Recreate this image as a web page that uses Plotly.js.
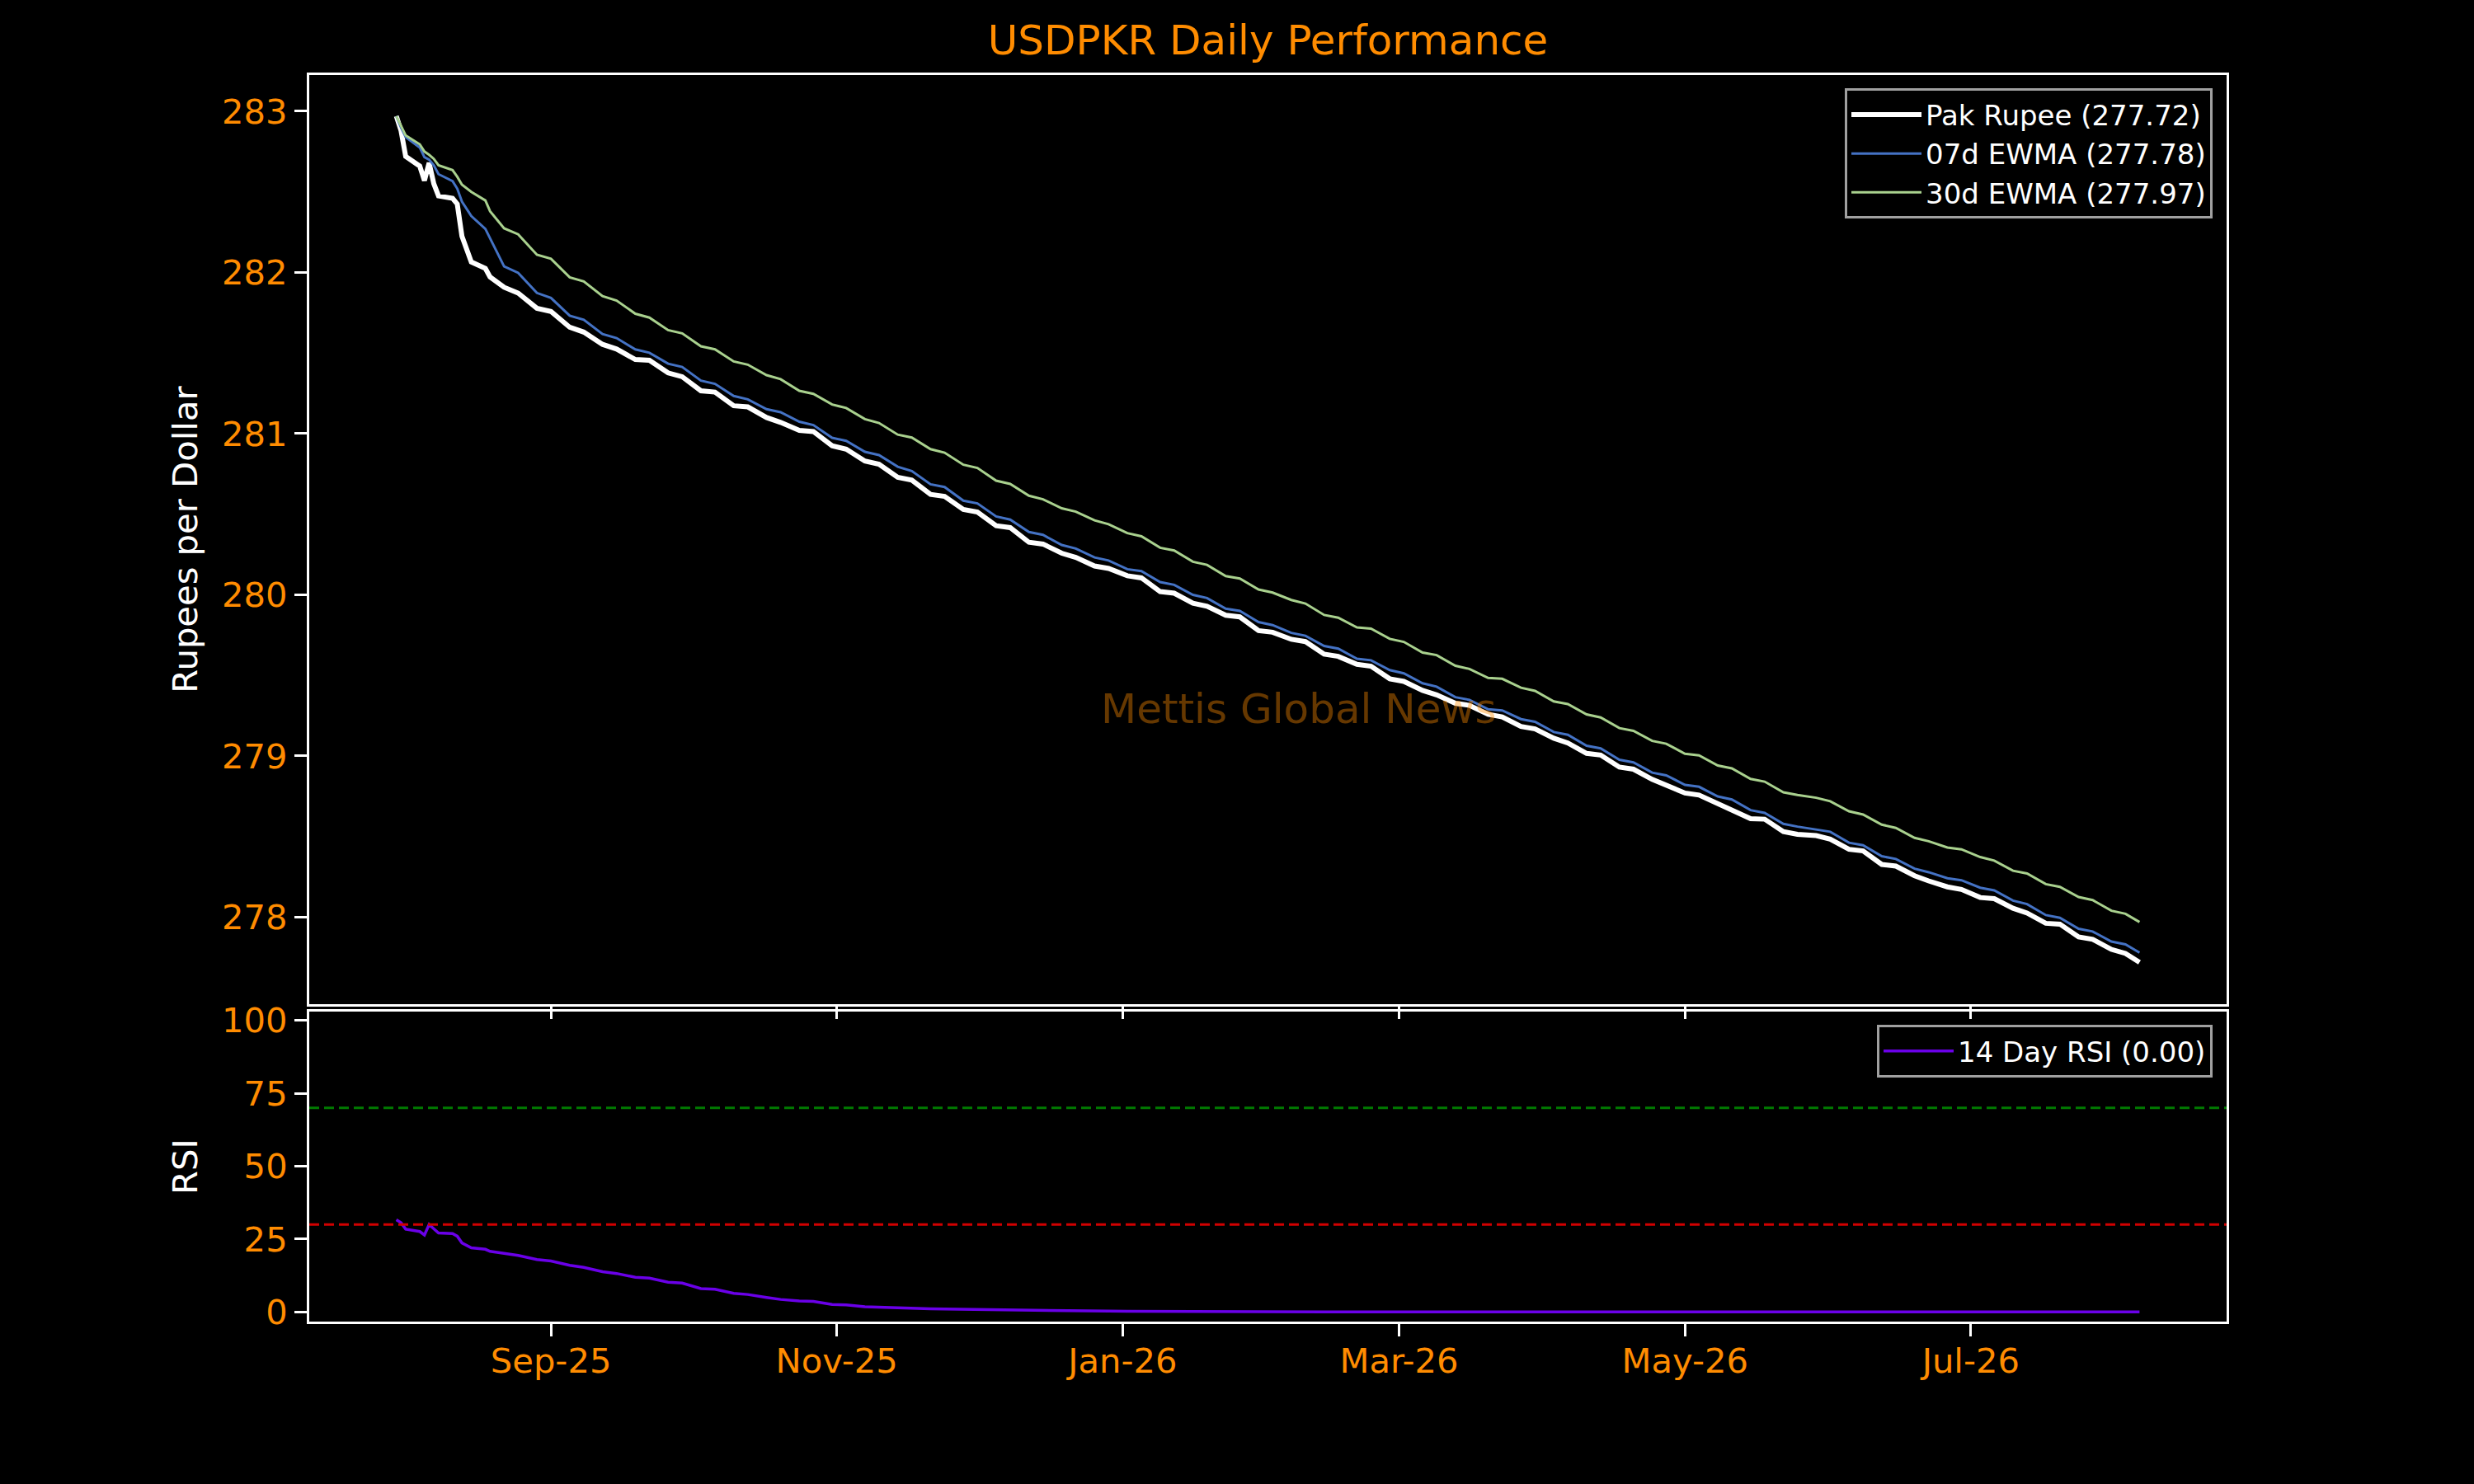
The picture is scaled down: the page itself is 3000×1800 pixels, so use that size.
<!DOCTYPE html>
<html>
<head>
<meta charset="utf-8">
<script src="https://cdn.plot.ly/plotly-3.0.1.min.js"></script>
<style>
  body { margin: 0; background: #000; }
  #chart { width: 3000px; height: 1800px; }
</style>
</head>
<body>
<div id="chart"></div>
<script>
// trading days (daily at the start, then Fri/Mon)
let dates = [
  '2025-07-30','2025-07-31','2025-08-01','2025-08-04','2025-08-05','2025-08-06','2025-08-07','2025-08-08',
  '2025-08-11','2025-08-12','2025-08-13','2025-08-15','2025-08-18','2025-08-19','2025-08-22','2025-08-25','2025-08-29','2025-09-01',
  '2025-09-05','2025-09-08','2025-09-12','2025-09-15','2025-09-19','2025-09-22','2025-09-26','2025-09-29',
  '2025-10-03','2025-10-06','2025-10-10','2025-10-13','2025-10-17','2025-10-20','2025-10-24','2025-10-27','2025-10-31',
  '2025-11-03','2025-11-07','2025-11-10','2025-11-14','2025-11-17','2025-11-21','2025-11-24','2025-11-28',
  '2025-12-01','2025-12-05','2025-12-08','2025-12-12','2025-12-15','2025-12-19','2025-12-22','2025-12-26','2025-12-29',
  '2026-01-02','2026-01-05','2026-01-09','2026-01-12','2026-01-16','2026-01-19','2026-01-23','2026-01-26','2026-01-30',
  '2026-02-02','2026-02-06','2026-02-09','2026-02-13','2026-02-16','2026-02-20','2026-02-23','2026-02-27',
  '2026-03-02','2026-03-06','2026-03-09','2026-03-13','2026-03-16','2026-03-20','2026-03-23','2026-03-27','2026-03-30',
  '2026-04-03','2026-04-06','2026-04-10','2026-04-13','2026-04-17','2026-04-20','2026-04-24','2026-04-27',
  '2026-05-01','2026-05-04','2026-05-08','2026-05-11','2026-05-15','2026-05-18','2026-05-22','2026-05-25','2026-05-29',
  '2026-06-01','2026-06-05','2026-06-08','2026-06-12','2026-06-15','2026-06-19','2026-06-22','2026-06-26','2026-06-29',
  '2026-07-03','2026-07-06','2026-07-10','2026-07-13','2026-07-17','2026-07-20','2026-07-24','2026-07-27','2026-07-31',
  '2026-08-03','2026-08-06'
];

let rupee = [
  282.97, 282.88, 282.72, 282.66, 282.57, 282.68, 282.55, 282.475,
  282.46, 282.425, 282.225, 282.065, 282.025, 281.972, 281.908, 281.872, 281.778, 281.758,
  281.66, 281.63, 281.554, 281.525, 281.46, 281.455, 281.377, 281.353,
  281.266, 281.258, 281.173, 281.166, 281.10, 281.07, 281.02, 281.013, 280.925,
  280.904, 280.83, 280.81, 280.729, 280.712, 280.623, 280.611, 280.53,
  280.514, 280.429, 280.417, 280.326, 280.315, 280.258, 280.232, 280.179, 280.164,
  280.118, 280.105, 280.02, 280.01, 279.948, 279.929, 279.873, 279.863, 279.778,
  279.768, 279.724, 279.71, 279.632, 279.618, 279.569, 279.557, 279.479,
  279.463, 279.407, 279.379, 279.327, 279.314, 279.259, 279.242, 279.183, 279.168,
  279.11, 279.081, 279.016, 279.006, 278.931, 278.918, 278.855, 278.821,
  278.77, 278.758, 278.707, 278.662, 278.611, 278.608, 278.531, 278.514, 278.506,
  278.484, 278.421, 278.411, 278.327, 278.317, 278.257, 278.225, 278.188, 278.172,
  278.122, 278.115, 278.055, 278.026, 277.962, 277.957, 277.877, 277.863, 277.80,
  277.775, 277.72
];

let ewma7 = [
  282.97, 282.90, 282.84, 282.775, 282.715, 282.70, 282.665, 282.61,
  282.567, 282.52, 282.44, 282.35, 282.27, 282.21, 282.038, 281.998, 281.873, 281.842,
  281.732, 281.707, 281.618, 281.593, 281.523, 281.502, 281.434, 281.414,
  281.329, 281.309, 281.234, 281.213, 281.152, 281.133, 281.074, 281.053, 280.974,
  280.955, 280.887, 280.867, 280.795, 280.768, 280.686, 280.669, 280.584,
  280.567, 280.486, 280.467, 280.39, 280.372, 280.309, 280.287, 280.232, 280.213,
  280.159, 280.147, 280.079, 280.062, 280.0, 279.98, 279.914, 279.9, 279.831,
  279.812, 279.764, 279.746, 279.683, 279.666, 279.603, 279.594, 279.533,
  279.513, 279.451, 279.43, 279.365, 279.348, 279.29, 279.283, 279.229, 279.212,
  279.149, 279.132, 279.064, 279.047, 278.977, 278.96, 278.897, 278.88,
  278.821, 278.809, 278.749, 278.73, 278.664, 278.647, 278.579, 278.562, 278.543,
  278.53, 278.462, 278.446, 278.378, 278.361, 278.301, 278.279, 278.242, 278.229,
  278.183, 278.166, 278.103, 278.081, 278.013, 277.996, 277.928, 277.911, 277.849,
  277.831, 277.78
];

let ewma30 = [
  282.97, 282.91, 282.85, 282.795, 282.75, 282.73, 282.705, 282.665,
  282.635, 282.594, 282.545, 282.50, 282.447, 282.38, 282.274, 282.237, 282.11, 282.085,
  281.97, 281.945, 281.853, 281.826, 281.744, 281.72, 281.642, 281.622,
  281.542, 281.523, 281.448, 281.428, 281.363, 281.338, 281.266, 281.247, 281.181,
  281.159, 281.09, 281.066, 280.994, 280.976, 280.904, 280.882, 280.807,
  280.787, 280.708, 280.688, 280.615, 280.593, 280.537, 280.516, 280.462, 280.438,
  280.383, 280.363, 280.292, 280.275, 280.205, 280.186, 280.116, 280.101, 280.033,
  280.014, 279.968, 279.946, 279.875, 279.858, 279.798, 279.79, 279.727,
  279.708, 279.642, 279.626, 279.56, 279.54, 279.484, 279.479, 279.424, 279.404,
  279.339, 279.322, 279.258, 279.239, 279.173, 279.156, 279.094, 279.076,
  279.014, 279.004, 278.941, 278.923, 278.858, 278.841, 278.775, 278.758, 278.741,
  278.719, 278.657, 278.637, 278.574, 278.554, 278.492, 278.471, 278.432, 278.421,
  278.373, 278.351, 278.288, 278.271, 278.205, 278.188, 278.125, 278.106, 278.04,
  278.021, 277.97
];

let rsi = [
  31.6, 30.6, 28.4, 27.6, 26.4, 30.0, 28.5, 27.1,
  26.9, 26.0, 23.7, 22.0, 21.5, 20.8, 20.1, 19.4, 18.0, 17.5,
  16.0, 15.3, 13.8, 13.2, 11.9, 11.6, 10.2, 9.9,
  8.0, 7.8, 6.4, 6.0, 5.0, 4.3, 3.8, 3.6, 2.6,
  2.4, 1.8, 1.6, 1.4, 1.3, 1.1, 1.0, 0.9,
  0.8, 0.7, 0.6, 0.5, 0.45, 0.4, 0.35, 0.3, 0.28,
  0.25, 0.22, 0.2, 0.18, 0.15, 0.13, 0.12, 0.1, 0.08,
  0.07, 0.06, 0.05, 0.05, 0.04, 0.04, 0.03, 0.03,
  0.03, 0.02, 0.02, 0.02, 0.02, 0.01, 0.01, 0.01, 0.01,
  0.01, 0.01, 0.01, 0.01, 0.01, 0, 0, 0,
  0, 0, 0, 0, 0, 0, 0, 0, 0,
  0, 0, 0, 0, 0, 0, 0, 0, 0,
  0, 0, 0, 0, 0, 0, 0, 0, 0,
  0, 0
];

let rsiLevels = [70, 30];
let rsiLevelColors = ['#007a00', '#d00000'];

let last = arr => arr[arr.length - 1].toFixed(2);

let orange = '#ff8c00';
let font = 'DejaVu Sans, Verdana, sans-serif';

let trace1 = {
  x: dates, y: rupee, type: 'scatter', mode: 'lines',
  name: 'Pak Rupee (' + last(rupee) + ')',
  line: { color: '#ffffff', width: 6 },
  xaxis: 'x', yaxis: 'y', legend: 'legend'
};
let trace2 = {
  x: dates, y: ewma7, type: 'scatter', mode: 'lines',
  name: '07d EWMA (' + last(ewma7) + ')',
  line: { color: '#4472c4', width: 3 },
  xaxis: 'x', yaxis: 'y', legend: 'legend'
};
let trace3 = {
  x: dates, y: ewma30, type: 'scatter', mode: 'lines',
  name: '30d EWMA (' + last(ewma30) + ')',
  line: { color: '#a9d18e', width: 3 },
  xaxis: 'x', yaxis: 'y', legend: 'legend'
};
let trace4 = {
  x: dates, y: rsi, type: 'scatter', mode: 'lines',
  name: '14 Day RSI (' + last(rsi) + ')',
  line: { color: '#6a00e8', width: 3.5 },
  xaxis: 'x2', yaxis: 'y2', legend: 'legend2'
};

let axisStyle = {
  showline: true, linecolor: '#ffffff', linewidth: 3, mirror: true,
  ticks: 'outside', ticklen: 15, tickwidth: 3, tickcolor: '#ffffff',
  showgrid: false, zeroline: false,
  tickfont: { family: font, size: 41.7, color: orange }
};

let xRange = ['2025-07-11 10:00', '2026-08-24 14:00'];

let legendStyle = {
  xanchor: 'right', yanchor: 'top', xref: 'paper', yref: 'paper',
  bgcolor: '#000000', bordercolor: '#a0a0a0', borderwidth: 3,
  itemwidth: 85,
  font: { family: font, size: 34, color: '#ffffff' }
};

let layout = {
  width: 3000, height: 1800,
  paper_bgcolor: '#000000', plot_bgcolor: '#000000',
  margin: { l: 375, r: 300, t: 91, b: 197 },
  font: { family: font, color: '#ffffff' },
  title: {
    text: 'USDPKR Daily Performance',
    font: { family: font, size: 50, color: orange },
    x: 0.5, xref: 'paper', y: 1 - 48 / 1800, yref: 'container', yanchor: 'middle'
  },
  xaxis: Object.assign({}, axisStyle, {
    anchor: 'y', matches: 'x2', range: xRange, type: 'date',
    showticklabels: false, tick0: '2025-09-01', dtick: 'M2'
  }),
  xaxis2: Object.assign({}, axisStyle, {
    anchor: 'y2', range: xRange, type: 'date',
    tick0: '2025-09-01', dtick: 'M2', tickformat: '%b-%y', ticklabelstandoff: -6
  }),
  yaxis: Object.assign({}, axisStyle, {
    domain: [0.2546, 1], anchor: 'x', range: [277.46, 283.225],
    tick0: 278, dtick: 1, ticklabelstandoff: 0,
    title: { text: 'Rupees per Dollar', font: { family: font, size: 41.7, color: '#ffffff' }, standoff: 17 }
  }),
  yaxis2: Object.assign({}, axisStyle, {
    domain: [0, 0.2486], anchor: 'x2', range: [-3.3, 103],
    tickvals: [0, 25, 50, 75, 100], ticklabelstandoff: 0,
    title: { text: 'RSI', font: { family: font, size: 41.7, color: '#ffffff' }, standoff: 17 }
  }),
  legend: Object.assign({}, legendStyle, { x: 0.9927, y: 0.9892 }),
  legend2: Object.assign({}, legendStyle, { x: 0.9927, y: 0.238 }),
  shapes: rsiLevels.map((lvl, i) => ({
    type: 'line', xref: 'x2 domain', yref: 'y2',
    x0: 0, x1: 1, y0: lvl, y1: lvl,
    line: { color: rsiLevelColors[i], width: 3, dash: '12px,6px' }
  })),
  annotations: [{
    text: 'Mettis Global News', showarrow: false,
    xref: 'paper', yref: 'paper', x: 0.516, y: 0.4913,
    xanchor: 'center', yanchor: 'middle',
    font: { family: font, size: 50, color: 'rgba(255,140,0,0.4)' }
  }]
};

Plotly.newPlot('chart', [trace1, trace2, trace3, trace4], layout, { displayModeBar: false });
</script>
</body>
</html>
